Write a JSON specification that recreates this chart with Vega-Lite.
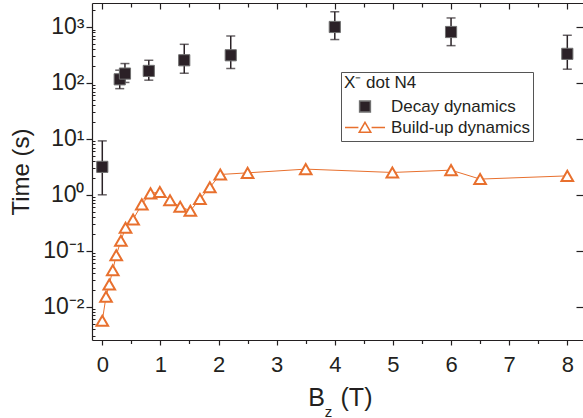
{
  "$schema": "https://vega.github.io/schema/vega-lite/v6.json",
  "width": 491,
  "height": 337,
  "autosize": {"type": "none"},
  "padding": {"left": 92, "top": 3, "right": 0, "bottom": 78},
  "background": "white",
  "config": {
    "view": {"stroke": null},
    "font": "Liberation Sans",
    "axis": {
      "labelFont": "Liberation Sans",
      "titleFont": "Liberation Sans",
      "labelColor": "#231f20",
      "titleColor": "#231f20",
      "domainColor": "#231f20",
      "tickColor": "#231f20",
      "grid": false,
      "domainWidth": 1.2,
      "tickWidth": 1.2,
      "titleFontWeight": "normal",
      "labelOverlap": false,
      "labelFlush": false
    }
  },
  "datasets": {
    "pts": [
      {"series": "Decay dynamics", "B": 0, "t": 3.16, "lo": 1.0, "hi": 9.2},
      {"series": "Decay dynamics", "B": 0.3, "t": 116, "lo": 79, "hi": 169},
      {"series": "Decay dynamics", "B": 0.39, "t": 147, "lo": 102, "hi": 222},
      {"series": "Decay dynamics", "B": 0.8, "t": 164, "lo": 112, "hi": 254},
      {"series": "Decay dynamics", "B": 1.41, "t": 254, "lo": 149, "hi": 490},
      {"series": "Decay dynamics", "B": 2.21, "t": 312, "lo": 181, "hi": 690},
      {"series": "Decay dynamics", "B": 4, "t": 1000, "lo": 596, "hi": 1870},
      {"series": "Decay dynamics", "B": 6, "t": 813, "lo": 464, "hi": 1450},
      {"series": "Decay dynamics", "B": 8, "t": 331, "lo": 176, "hi": 711},
      {"series": "Build-up dynamics", "B": 0, "t": 0.0056},
      {"series": "Build-up dynamics", "B": 0.064, "t": 0.0151},
      {"series": "Build-up dynamics", "B": 0.12, "t": 0.025},
      {"series": "Build-up dynamics", "B": 0.18, "t": 0.045},
      {"series": "Build-up dynamics", "B": 0.24, "t": 0.083},
      {"series": "Build-up dynamics", "B": 0.32, "t": 0.151},
      {"series": "Build-up dynamics", "B": 0.4, "t": 0.257},
      {"series": "Build-up dynamics", "B": 0.53, "t": 0.363},
      {"series": "Build-up dynamics", "B": 0.68, "t": 0.674},
      {"series": "Build-up dynamics", "B": 0.83, "t": 1.06},
      {"series": "Build-up dynamics", "B": 0.99, "t": 1.12},
      {"series": "Build-up dynamics", "B": 1.165, "t": 0.8},
      {"series": "Build-up dynamics", "B": 1.34, "t": 0.61},
      {"series": "Build-up dynamics", "B": 1.515, "t": 0.52},
      {"series": "Build-up dynamics", "B": 1.68, "t": 0.84},
      {"series": "Build-up dynamics", "B": 1.85, "t": 1.36},
      {"series": "Build-up dynamics", "B": 2.03, "t": 2.31},
      {"series": "Build-up dynamics", "B": 2.5, "t": 2.47},
      {"series": "Build-up dynamics", "B": 3.5, "t": 2.88},
      {"series": "Build-up dynamics", "B": 4.99, "t": 2.51},
      {"series": "Build-up dynamics", "B": 6.0, "t": 2.76},
      {"series": "Build-up dynamics", "B": 6.5, "t": 1.91},
      {"series": "Build-up dynamics", "B": 8.0, "t": 2.18}
    ]
  },
  "data": {"name": "pts"},
  "layer": [
    {
      "transform": [{"filter": "datum.series === 'Build-up dynamics'"}],
      "mark": {"type": "line", "color": "#e8702e", "strokeWidth": 1},
      "encoding": {
        "x": {
          "field": "B", "type": "quantitative",
          "scale": {"domain": [-0.177, 8.27], "nice": false, "zero": false},
          "axis": {
            "orient": "bottom",
            "values": [0, 0.5, 1, 1.5, 2, 2.5, 3, 3.5, 4, 4.5, 5, 5.5, 6, 6.5, 7, 7.5, 8],
            "labelExpr": "datum.value % 1 === 0 ? format(datum.value, 'd') : ''",
            "tickSize": {"condition": {"test": "datum.value % 1 === 0", "value": 5}, "value": 3.5},
            "labelFontSize": 22,
            "labelPadding": 9,
            "title": "B",
            "titleFontSize": 25,
            "titleX": 224,
            "titleY": 65,
            "titleBaseline": "alphabetic"
          }
        },
        "y": {
          "field": "t", "type": "quantitative",
          "scale": {"type": "log", "domain": [0.00254, 2683], "nice": false},
          "axis": {
            "orient": "left",
            "values": [0.01, 0.1, 1, 10, 100, 1000],
            "labelExpr": "datum.value >= 999 ? '10³' : datum.value >= 99 ? '10²' : datum.value >= 9.9 ? '10¹' : datum.value >= 0.99 ? '10⁰' : datum.value >= 0.099 ? '10⁻¹' : '10⁻²'",
            "tickSize": 6,
            "labelFontSize": 23,
            "labelPadding": 2,
            "title": "Time (s)",
            "titleFontSize": 24,
            "titlePadding": 9
          }
        }
      }
    },
    {
      "transform": [{"filter": "datum.series === 'Decay dynamics'"}],
      "mark": {"type": "errorbar", "ticks": {"size": 9}, "thickness": 1.5, "color": "#2a2226"},
      "encoding": {
        "x": {"field": "B", "type": "quantitative", "scale": {"domain": [-0.177, 8.27], "nice": false, "zero": false}, "axis": null},
        "y": {"field": "lo", "type": "quantitative", "scale": {"type": "log", "domain": [0.00254, 2683], "nice": false}, "axis": null},
        "y2": {"field": "hi"}
      }
    },
    {
      "transform": [{"filter": "datum.series === 'Decay dynamics'"}],
      "mark": {"type": "point", "shape": "square", "filled": true, "size": 125, "opacity": 1, "fill": "#2b2127", "stroke": "#707070", "strokeWidth": 1},
      "encoding": {
        "x": {"field": "B", "type": "quantitative", "scale": {"domain": [-0.177, 8.27], "nice": false, "zero": false}, "axis": null},
        "y": {"field": "t", "type": "quantitative", "scale": {"type": "log", "domain": [0.00254, 2683], "nice": false}, "axis": null}
      }
    },
    {
      "transform": [{"filter": "datum.series === 'Build-up dynamics'"}],
      "mark": {"type": "point", "shape": "triangle-up", "filled": true, "size": 135, "opacity": 1, "fill": "#ffffff", "stroke": "#e8702e", "strokeWidth": 2},
      "encoding": {
        "x": {"field": "B", "type": "quantitative", "scale": {"domain": [-0.177, 8.27], "nice": false, "zero": false}, "axis": null},
        "y": {"field": "t", "type": "quantitative", "scale": {"type": "log", "domain": [0.00254, 2683], "nice": false}, "axis": null}
      }
    },
    {
      "transform": [{"filter": "datum.B < -100"}],
      "mark": {"type": "point", "filled": true, "size": 1600, "opacity": 1, "strokeWidth": 1.5},
      "encoding": {
        "x": {"field": "B", "type": "quantitative", "scale": {"domain": [-0.177, 8.27], "nice": false, "zero": false}, "axis": null},
        "y": {"field": "t", "type": "quantitative", "scale": {"type": "log", "domain": [0.00254, 2683], "nice": false}, "axis": null},
        "shape": {
          "field": "series", "type": "nominal",
          "scale": {"domain": ["Decay dynamics", "Build-up dynamics"], "range": ["M-0.27,-0.27L0.27,-0.27L0.27,0.27L-0.27,0.27Z", "M-1,0L-0.33,0M0.33,0L1,0M0,-0.26L0.29,0.24L-0.29,0.24Z"]},
          "legend": {
            "title": "X⁻ dot N4",
            "orient": "none",
            "legendX": 249,
            "legendY": 69,
            "padding": 3,
            "strokeColor": "#555555",
            "fillColor": "white",
            "titleFont": "Liberation Sans",
            "titleFontSize": 17,
            "titleFontWeight": "normal",
            "titleColor": "#231f20",
            "titlePadding": 4,
            "labelFont": "Liberation Sans",
            "labelFontSize": 17,
            "labelColor": "#231f20",
            "labelOffset": 5,
            "symbolSize": 1600,
            "clipHeight": 21,
            "rowPadding": 0,
            "symbolStrokeWidth": 1.5
          }
        },
        "fill": {
          "field": "series", "type": "nominal",
          "scale": {"domain": ["Decay dynamics", "Build-up dynamics"], "range": ["#2b2127", "#ffffff"]}
        },
        "stroke": {
          "field": "series", "type": "nominal",
          "scale": {"domain": ["Decay dynamics", "Build-up dynamics"], "range": ["#707070", "#e8702e"]}
        }
      }
    },
    {
      "mark": {"type": "point", "opacity": 0},
      "encoding": {
        "x": {
          "field": "B", "type": "quantitative",
          "scale": {"domain": [-0.177, 8.27], "nice": false, "zero": false},
          "axis": {
            "orient": "top",
            "values": [0, 0.5, 1, 1.5, 2, 2.5, 3, 3.5, 4, 4.5, 5, 5.5, 6, 6.5, 7, 7.5, 8],
            "labels": false,
            "title": null,
            "tickSize": {"condition": {"test": "datum.value % 1 === 0", "value": -6}, "value": -4}
          }
        },
        "y": {
          "field": "t", "type": "quantitative",
          "scale": {"type": "log", "domain": [0.00254, 2683], "nice": false},
          "axis": {
            "orient": "right",
            "values": [0.01, 0.1, 1, 10, 100, 1000],
            "labels": false,
            "title": null,
            "domain": false,
            "tickSize": -7
          }
        }
      }
    },
    {
      "mark": {"type": "point", "opacity": 0},
      "encoding": {
        "x": {
          "field": "B", "type": "quantitative",
          "scale": {"domain": [-0.177, 8.27], "nice": false, "zero": false},
          "axis": {
            "orient": "bottom",
            "domain": false,
            "ticks": false,
            "labels": false,
            "title": "z",
            "titleFontSize": 15,
            "titleX": 236,
            "titleY": 76,
            "titleBaseline": "alphabetic"
          }
        },
        "y": {
          "field": "t", "type": "quantitative",
          "scale": {"type": "log", "domain": [0.00254, 2683], "nice": false},
          "axis": {
            "orient": "left",
            "values": [0.003, 0.004, 0.005, 0.006, 0.007, 0.008, 0.009, 0.02, 0.03, 0.04, 0.05, 0.06, 0.07, 0.08, 0.09, 0.2, 0.3, 0.4, 0.5, 0.6, 0.7, 0.8, 0.9, 2, 3, 4, 5, 6, 7, 8, 9, 20, 30, 40, 50, 60, 70, 80, 90, 200, 300, 400, 500, 600, 700, 800, 900, 2000],
            "labels": false,
            "title": null,
            "domain": false,
            "tickSize": -3,
            "tickWidth": 1
          }
        }
      }
    },
    {
      "mark": {"type": "point", "opacity": 0},
      "encoding": {
        "x": {
          "field": "B", "type": "quantitative",
          "scale": {"domain": [-0.177, 8.27], "nice": false, "zero": false},
          "axis": {
            "orient": "bottom",
            "domain": false,
            "ticks": false,
            "labels": false,
            "title": "(T)",
            "titleFontSize": 25,
            "titleX": 264,
            "titleY": 65,
            "titleBaseline": "alphabetic"
          }
        },
        "y": {
          "field": "t", "type": "quantitative",
          "scale": {"type": "log", "domain": [0.00254, 2683], "nice": false},
          "axis": null
        }
      }
    }
  ],
  "resolve": {"axis": {"x": "independent", "y": "independent"}}
}
